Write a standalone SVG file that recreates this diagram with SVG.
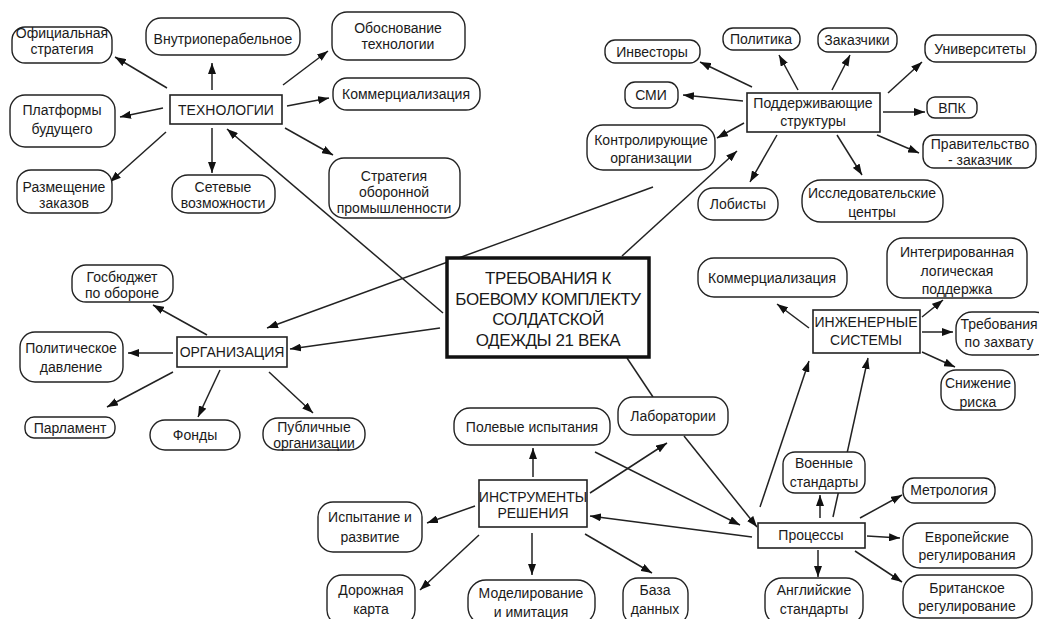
<svg xmlns="http://www.w3.org/2000/svg" width="1039" height="619" viewBox="0 0 1039 619">
<style>
.r{fill:#fff;stroke:#222;stroke-width:1.4}
.b{fill:#fff;stroke:#222;stroke-width:1.6}
.c{fill:#fff;stroke:#111;stroke-width:3.5}
text{font-family:"Liberation Sans","Noto Sans",sans-serif;font-size:14px;fill:#1a1a1a;text-anchor:middle}
.big{font-size:17px;letter-spacing:-0.4px}
#conn line{stroke:#222;stroke-width:1.5;marker-end:url(#ah)}
#conn line.np{marker-end:none}
</style>
<defs>
<marker id="ah" markerUnits="userSpaceOnUse" markerWidth="11" markerHeight="8" refX="11" refY="4" orient="auto">
<path d="M0,0 L11,4 L0,8 z" fill="#111"/>
</marker>
</defs>
<rect width="1039" height="619" fill="#fff"/>
<g id="conn">
<line x1="167" y1="88" x2="115" y2="57"/>
<line x1="212" y1="90" x2="212" y2="63"/>
<line x1="163" y1="108" x2="120" y2="117"/>
<line x1="166" y1="132" x2="110" y2="182"/>
<line x1="212" y1="128" x2="212" y2="173"/>
<line x1="283" y1="85" x2="328" y2="51"/>
<line x1="287" y1="106" x2="329" y2="98"/>
<line x1="285" y1="128" x2="333" y2="155"/>
<line x1="443" y1="313" x2="227" y2="129"/>
<line x1="752" y1="87" x2="700" y2="62"/>
<line x1="798" y1="90" x2="779" y2="55"/>
<line x1="832" y1="90" x2="850" y2="55"/>
<line x1="888" y1="93" x2="922" y2="62"/>
<line x1="743" y1="101" x2="683" y2="95"/>
<line x1="883" y1="112" x2="925" y2="112"/>
<line x1="877" y1="135" x2="919" y2="153"/>
<line x1="744" y1="123" x2="717" y2="138"/>
<line x1="777" y1="135" x2="750" y2="182"/>
<line x1="837" y1="135" x2="862" y2="175"/>
<line x1="622" y1="256" x2="737" y2="151"/>
<line x1="653" y1="187" x2="267" y2="328"/>
<line x1="207" y1="335" x2="153" y2="305"/>
<line x1="173" y1="353" x2="128" y2="353"/>
<line x1="173" y1="372" x2="107" y2="407"/>
<line x1="220" y1="370" x2="198" y2="417"/>
<line x1="269" y1="372" x2="313" y2="413"/>
<line x1="440" y1="328" x2="290" y2="349"/>
<line class="np" x1="627" y1="358" x2="653" y2="397"/>
<line x1="533" y1="477" x2="533" y2="448"/>
<line x1="590" y1="493" x2="667" y2="443"/>
<line x1="475" y1="506" x2="427" y2="523"/>
<line x1="479" y1="535" x2="420" y2="590"/>
<line x1="532" y1="533" x2="532" y2="575"/>
<line x1="585" y1="534" x2="652" y2="573"/>
<line x1="752" y1="537" x2="590" y2="516"/>
<line x1="595" y1="452" x2="740" y2="525"/>
<line x1="684" y1="436" x2="757" y2="527"/>
<line x1="820" y1="518" x2="820" y2="495"/>
<line x1="860" y1="518" x2="902" y2="495"/>
<line x1="867" y1="536" x2="900" y2="538"/>
<line x1="855" y1="551" x2="902" y2="582"/>
<line x1="818" y1="550" x2="818" y2="577"/>
<line x1="760" y1="507" x2="809" y2="361"/>
<line x1="833" y1="517" x2="868" y2="358"/>
<line x1="809" y1="328" x2="777" y2="304"/>
<line x1="922" y1="317" x2="943" y2="300"/>
<line x1="922" y1="332" x2="953" y2="332"/>
<line x1="922" y1="352" x2="955" y2="367"/>
</g>

<g id="center"><rect class="c" x="447" y="258" width="202" height="99"/>
<text class="big" x="548"><tspan x="548" y="284">ТРЕБОВАНИЯ К</tspan><tspan x="548" y="304.5">БОЕВОМУ КОМПЛЕКТУ</tspan><tspan x="548" y="325">СОЛДАТСКОЙ</tspan><tspan x="548" y="345.5">ОДЕЖДЫ 21 ВЕКА</tspan></text></g>

<g id="tech"><rect class="b" x="170" y="95" width="112" height="29"/><text x="226" y="115">ТЕХНОЛОГИИ</text></g>
<g id="n_off"><rect class="r" x="12" y="27" width="100" height="36" rx="13"/><text><tspan x="62" y="38">Официальная</tspan><tspan x="62" y="54">стратегия</tspan></text></g>
<g id="n_vnutr"><rect class="r" x="146" y="18" width="154" height="37" rx="15"/><text x="223" y="44">Внутриоперабельное</text></g>
<g id="n_platf"><rect class="r" x="10" y="95" width="105" height="52" rx="15"/><text><tspan x="62" y="115">Платформы</tspan><tspan x="62" y="134">будущего</tspan></text></g>
<g id="n_razm"><rect class="r" x="17" y="170" width="95" height="43" rx="14"/><text><tspan x="64" y="192">Размещение</tspan><tspan x="64" y="208">заказов</tspan></text></g>
<g id="n_set"><rect class="r" x="172" y="175" width="103" height="38" rx="16"/><text><tspan x="223" y="192">Сетевые</tspan><tspan x="223" y="208">возможности</tspan></text></g>
<g id="n_obosn"><rect class="r" x="332" y="12" width="133" height="48" rx="15"/><text><tspan x="398" y="33">Обоснование</tspan><tspan x="398" y="49">технологии</tspan></text></g>
<g id="n_komm1"><rect class="r" x="333" y="78" width="147" height="32" rx="14"/><text x="406" y="99">Коммерциализация</text></g>
<g id="n_strat"><rect class="r" x="329" y="158" width="131" height="60" rx="15"/><text><tspan x="394" y="181">Стратегия</tspan><tspan x="394" y="197">оборонной</tspan><tspan x="394" y="213">промышленности</tspan></text></g>

<g id="support"><rect class="b" x="747" y="93" width="133" height="39"/><text><tspan x="813" y="108">Поддерживающие</tspan><tspan x="813" y="126">структуры</tspan></text></g>
<g id="n_invest"><rect class="r" x="605" y="40" width="95" height="23" rx="10"/><text x="652" y="57">Инвесторы</text></g>
<g id="n_polit"><rect class="r" x="723" y="28" width="77" height="22" rx="10"/><text x="761" y="44">Политика</text></g>
<g id="n_zakaz"><rect class="r" x="818" y="28" width="79" height="24" rx="10"/><text x="857" y="45">Заказчики</text></g>
<g id="n_univ"><rect class="r" x="925" y="35" width="111" height="27" rx="11"/><text x="980" y="54">Университеты</text></g>
<g id="n_smi"><rect class="r" x="625" y="82" width="53" height="26" rx="10"/><text x="651" y="100">СМИ</text></g>
<g id="n_vpk"><rect class="r" x="927" y="97" width="50" height="21" rx="8"/><text x="952" y="113">ВПК</text></g>
<g id="n_kontr"><rect class="r" x="587" y="125" width="128" height="45" rx="16"/><text><tspan x="651" y="145">Контролирующие</tspan><tspan x="651" y="163">организации</tspan></text></g>
<g id="n_prav"><rect class="r" x="923" y="135" width="113" height="33" rx="11"/><text><tspan x="980" y="149">Правительство</tspan><tspan x="980" y="165">- заказчик</tspan></text></g>
<g id="n_lob"><rect class="r" x="698" y="188" width="80" height="32" rx="15"/><text x="738" y="209">Лобисты</text></g>
<g id="n_issl"><rect class="r" x="802" y="180" width="141" height="42" rx="19"/><text><tspan x="872" y="198">Исследовательские</tspan><tspan x="872" y="217">центры</tspan></text></g>

<g id="org"><rect class="b" x="177" y="337" width="110" height="30"/><text x="232" y="357">ОРГАНИЗАЦИЯ</text></g>
<g id="n_gosb"><rect class="r" x="72" y="265" width="101" height="37" rx="14"/><text><tspan x="122" y="282">Госбюджет</tspan><tspan x="122" y="298">по обороне</tspan></text></g>
<g id="n_poldav"><rect class="r" x="20" y="332" width="103" height="50" rx="15"/><text><tspan x="71" y="353">Политическое</tspan><tspan x="71" y="372">давление</tspan></text></g>
<g id="n_parl"><rect class="r" x="25" y="417" width="90" height="21" rx="9"/><text x="70" y="433">Парламент</text></g>
<g id="n_fond"><rect class="r" x="150" y="420" width="90" height="30" rx="15"/><text x="195" y="440">Фонды</text></g>
<g id="n_publ"><rect class="r" x="263" y="418" width="102" height="32" rx="15"/><text><tspan x="314" y="432">Публичные</tspan><tspan x="314" y="448">организации</tspan></text></g>

<g id="n_lab"><rect class="r" x="618" y="397" width="110" height="38" rx="15"/><text x="673" y="421">Лаборатории</text></g>
<g id="n_pole"><rect class="r" x="454" y="408" width="156" height="37" rx="16"/><text x="532" y="432">Полевые испытания</text></g>
<g id="instr"><rect class="b" x="479" y="480" width="108" height="47"/><text><tspan x="533" y="502">ИНСТРУМЕНТЫ</tspan><tspan x="533" y="518">РЕШЕНИЯ</tspan></text></g>
<g id="n_isp"><rect class="r" x="318" y="502" width="104" height="50" rx="15"/><text><tspan x="370" y="522">Испытание и</tspan><tspan x="370" y="542">развитие</tspan></text></g>
<g id="n_dor"><rect class="r" x="327" y="575" width="88" height="50" rx="15"/><text><tspan x="371" y="595">Дорожная</tspan><tspan x="371" y="614">карта</tspan></text></g>
<g id="n_model"><rect class="r" x="468" y="580" width="127" height="45" rx="18"/><text><tspan x="531" y="598">Моделирование</tspan><tspan x="531" y="617">и имитация</tspan></text></g>
<g id="n_baza"><rect class="r" x="623" y="578" width="65" height="47" rx="15"/><text><tspan x="655" y="595">База</tspan><tspan x="655" y="614">данных</tspan></text></g>

<g id="proc"><rect class="b" x="758" y="523" width="107" height="25"/><text x="811" y="540">Процессы</text></g>
<g id="n_voen"><rect class="r" x="783" y="452" width="82" height="41" rx="12"/><text><tspan x="824" y="468">Военные</tspan><tspan x="824" y="487">стандарты</tspan></text></g>
<g id="n_metr"><rect class="r" x="903" y="478" width="92" height="25" rx="11"/><text x="949" y="495">Метрология</text></g>
<g id="n_evro"><rect class="r" x="903" y="523" width="129" height="45" rx="17"/><text><tspan x="967" y="542">Европейские</tspan><tspan x="967" y="560">регулирования</tspan></text></g>
<g id="n_brit"><rect class="r" x="903" y="575" width="129" height="43" rx="17"/><text><tspan x="967" y="593">Британское</tspan><tspan x="967" y="611">регулирование</tspan></text></g>
<g id="n_angl"><rect class="r" x="765" y="578" width="98" height="47" rx="17"/><text><tspan x="814" y="595">Английские</tspan><tspan x="814" y="614">стандарты</tspan></text></g>

<g id="eng"><rect class="b" x="813" y="310" width="107" height="43"/><text><tspan x="866" y="327">ИНЖЕНЕРНЫЕ</tspan><tspan x="866" y="345">СИСТЕМЫ</tspan></text></g>
<g id="n_komm2"><rect class="r" x="698" y="258" width="149" height="39" rx="16"/><text x="772" y="283">Коммерциализация</text></g>
<g id="n_integr"><rect class="r" x="887" y="238" width="140" height="60" rx="16"/><text><tspan x="957" y="257">Интегрированная</tspan><tspan x="957" y="276">логическая</tspan><tspan x="957" y="294">поддержка</tspan></text></g>
<g id="n_treb"><rect class="r" x="956" y="312" width="95" height="43" rx="16"/><text><tspan x="999" y="329">Требования</tspan><tspan x="999" y="347">по захвату</tspan></text></g>
<g id="n_snizh"><rect class="r" x="941" y="370" width="74" height="40" rx="15"/><text><tspan x="978" y="388">Снижение</tspan><tspan x="978" y="407">риска</tspan></text></g>
</svg>
